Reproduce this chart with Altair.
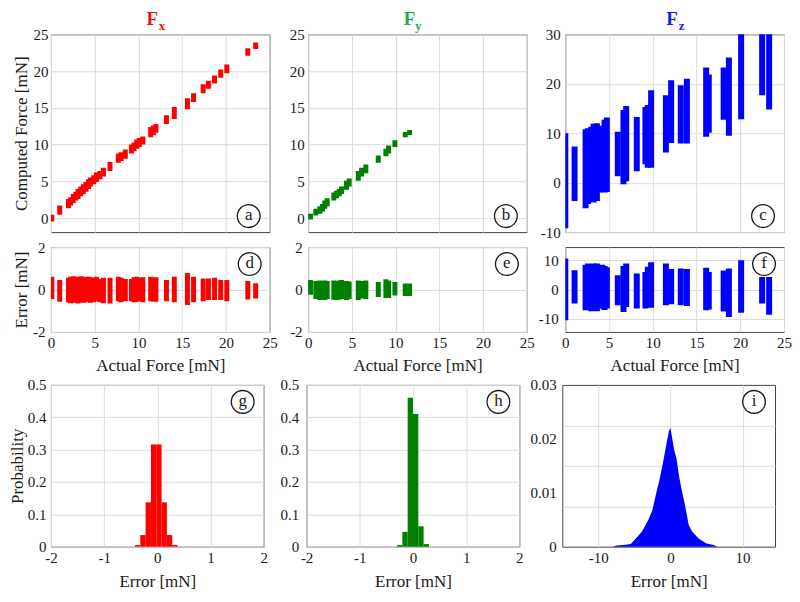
import altair as alt
import pandas as pd

FONT = "Liberation Serif, Times New Roman, Times, serif"
RED, GREEN, BLUE = "#ff0000", "#008000", "#0000ff"
T_RED, T_GREEN, T_BLUE = "#e8141c", "#1fa85a", "#1a1aee"
GRID = "#dcdcdc"
BOX = "#444444"
INK = "#1a1a1a"
MINUS = "replace(datum.label, '\u2212', '-')"

# ---------------- Fx clusters (actual force, computed range, error range)
fx_actual = [0.1, 1.0, 2.0, 2.25, 2.55, 2.85, 3.1, 3.4, 3.7, 4.0, 4.3, 4.5, 4.9, 5.2, 5.6, 6.0, 6.75,
             7.7, 8.0, 8.5, 9.2, 9.5, 9.8, 10.1, 10.5, 11.4, 11.7, 12.0, 13.2, 14.1, 15.6, 16.3, 17.4,
             18.0, 18.7, 19.4, 20.1, 22.5, 23.4]
fx_comp_lo = [-0.45, 0.45, 1.35, 1.70, 2.06, 2.38, 2.60, 2.96, 3.27, 3.59, 3.95, 4.30, 4.62, 4.93, 5.29,
              5.65, 6.41, 7.53, 7.76, 8.07, 8.79, 9.10, 9.42, 9.69, 10.0, 11.0, 11.3, 11.6, 12.8, 13.5,
              14.8, 15.8, 17.0, 17.6, 18.3, 19.1, 19.7, 22.1, 23.0]
fx_comp_hi = [0.45, 1.70, 2.60, 2.83, 3.27, 3.59, 3.95, 4.26, 4.62, 4.93, 5.29, 5.52, 5.83, 6.19, 6.41,
              6.86, 7.62, 8.79, 8.97, 9.33, 10.0, 10.3, 10.7, 10.9, 11.1, 12.4, 12.6, 12.8, 14.0, 15.1,
              16.3, 17.0, 18.2, 18.7, 19.4, 20.2, 20.9, 23.1, 23.9]
fx_err_hi = [0.6, 0.45, 0.55, 0.6, 0.62, 0.6, 0.58, 0.62, 0.6, 0.55, 0.6, 0.58, 0.55, 0.6, 0.5, 0.55,
             0.55, 0.6, 0.55, 0.5, 0.5, 0.58, 0.6, 0.55, 0.58, 0.6, 0.55, 0.58, 0.45, 0.6, 0.78, 0.6,
             0.52, 0.52, 0.55, 0.45, 0.45, 0.4, 0.3]
fx_err_lo = [-0.45, -0.58, -0.6, -0.65, -0.62, -0.6, -0.66, -0.6, -0.62, -0.6, -0.58, -0.62, -0.6,
             -0.55, -0.6, -0.65, -0.66, -0.55, -0.6, -0.55, -0.55, -0.6, -0.58, -0.55, -0.6, -0.55,
             -0.56, -0.58, -0.55, -0.6, -0.73, -0.6, -0.55, -0.5, -0.5, -0.5, -0.55, -0.47, -0.42]

# ---------------- Fy clusters
fy_actual = [0.27, 0.88, 1.34, 1.64, 1.91, 2.18, 2.94, 3.24, 3.55, 3.82, 4.39, 4.69, 5.73, 6.11, 6.60,
             8.02, 8.89, 9.20, 9.92, 11.1, 11.6]
fy_comp_lo = [-0.18, 0.36, 0.58, 0.90, 1.26, 1.61, 2.38, 2.69, 2.96, 3.27, 3.86, 4.30, 5.07, 5.65,
              6.10, 7.53, 8.43, 8.79, 9.69, 11.0, 11.3]
fy_comp_hi = [0.58, 1.26, 1.61, 1.93, 2.38, 2.69, 3.50, 3.72, 3.95, 4.30, 5.07, 5.38, 6.41, 6.86,
              7.31, 8.52, 9.42, 9.87, 10.6, 11.7, 12.0]
fy_err_hi = [0.45, 0.4, 0.42, 0.4, 0.42, 0.4, 0.42, 0.4, 0.42, 0.45, 0.4, 0.38, 0.42, 0.4, 0.42,
             0.35, 0.48, 0.42, 0.35, 0.28, 0.28]
fy_err_lo = [-0.25, -0.45, -0.5, -0.48, -0.5, -0.45, -0.48, -0.5, -0.48, -0.45, -0.5, -0.45, -0.5,
             -0.42, -0.45, -0.35, -0.4, -0.4, -0.28, -0.3, -0.3]

# ---------------- Fz clusters
fz_actual = [0.0, 1.06, 2.32, 2.59, 2.97, 3.23, 3.61, 3.92, 4.22, 4.49, 4.75, 6.0, 6.65, 6.96, 8.17,
             9.16, 9.43, 9.81, 11.5, 12.1, 13.2, 13.9, 16.1, 16.4, 18.1, 18.7, 20.1, 22.5, 23.3]
fz_comp_lo = [-9.2, -3.7, -5.2, -4.3, -3.3, -4.0, -3.7, -2.0, -1.3, -2.0, -1.9, 1.3, -0.3, 0.3, 2.3,
              3.7, 3.0, 3.0, 6.1, 8.0, 7.9, 7.9, 9.3, 10.1, 12.7, 9.5, 12.8, 17.7, 14.8]
fz_comp_hi = [10.0, 7.3, 10.8, 11.0, 11.3, 11.9, 12.0, 11.3, 11.5, 12.7, 13.2, 10.3, 14.7, 15.5, 13.3,
              15.3, 15.7, 18.7, 17.7, 20.7, 19.7, 21.0, 23.3, 21.9, 23.3, 25.3, 30.5, 30.5, 30.5]
fz_err_hi = [10.6, 6.6, 8.5, 8.9, 8.6, 8.9, 8.9, 8.2, 8.5, 8.0, 7.6, 4.9, 8.0, 8.9, 5.5, 6.0, 7.8,
             9.3, 8.9, 7.0, 7.2, 7.0, 7.4, 6.0, 6.5, 7.2, 10.0, 4.3, 4.3]
fz_err_lo = [-10.5, -4.8, -7.1, -6.5, -7.4, -6.8, -7.4, -6.6, -6.2, -7.0, -6.5, -5.4, -7.7, -6.0,
             -6.5, -6.5, -6.0, -6.2, -5.4, -5.0, -5.4, -5.6, -7.1, -6.8, -7.5, -9.4, -7.9, -4.8, -8.6]

# ---------------- error histograms
fx_bin_lo = [-0.42, -0.32, -0.22, -0.12, -0.02, 0.08, 0.18, 0.28]
fx_bin_hi = [-0.32, -0.22, -0.12, -0.02, 0.08, 0.18, 0.28, 0.38]
fx_prob = [0.005, 0.036, 0.137, 0.316, 0.316, 0.137, 0.036, 0.005]

fy_bin_lo = [-0.3, -0.2, -0.1, 0.0, 0.1, 0.2]
fy_bin_hi = [-0.2, -0.1, 0.0, 0.1, 0.2, 0.3]
fy_prob = [0.005, 0.046, 0.46, 0.41, 0.063, 0.008]

fz_err_x = [-8.0, -7.5, -6.5, -5.5, -4.8, -4.0, -3.45, -3.0, -2.5, -1.93, -1.5, -0.92, -0.5, -0.2,
            0.0, 0.2, 0.5, 0.83, 1.2, 1.61, 2.0, 2.53, 3.0, 3.9, 5.0, 6.0, 6.5]
fz_err_p = [0.0, 0.0002, 0.0003, 0.0005, 0.0015, 0.0027, 0.004, 0.0052, 0.0068, 0.0102, 0.0125,
            0.0164, 0.0195, 0.0215, 0.022, 0.0205, 0.018, 0.0164, 0.013, 0.0102, 0.0078, 0.004,
            0.0028, 0.0015, 0.0006, 0.0003, 0.0]

force_ticks = [0, 5, 10, 15, 20, 25]
W1, H1, H2 = 219, 198, 85
W3, H3 = 213, 162


def xaxis(values, show, title=None, lab_pad=4, title_pad=7):
    kw = dict(values=values, grid=True, gridColor=GRID, ticks=False, tickSize=0, domain=False,
              labels=show, labelFlush=False, labelOverlap=False, labelExpr=MINUS)
    if show:
        kw.update(labelPadding=lab_pad, title=title, titlePadding=title_pad)
    else:
        kw.update(title=None, minExtent=0, maxExtent=0)
    return alt.Axis(**kw)


def yaxis(values, title, title_x, pad, fmt=None, grid=True):
    kw = dict(values=values, grid=grid, gridColor=GRID, ticks=False, tickSize=0, domain=False,
              labelPadding=pad, labelOverlap=False, labelExpr=MINUS)
    if title:
        kw.update(title=title, titleX=title_x, titleBaseline="middle", titleAngle=270)
    else:
        kw["title"] = None
    if fmt:
        kw["format"] = fmt
    return alt.Axis(**kw)


def letter(ch, cx, cy):
    df = pd.DataFrame({"t": [ch]})
    ring = alt.Chart(df).mark_point(shape="circle", size=520, filled=False, color=INK,
                                    strokeWidth=1.3, opacity=1).encode(x=alt.value(cx), y=alt.value(cy))
    txt = alt.Chart(df).mark_text(font=FONT, fontSize=17, color=INK, align="center",
                                  baseline="middle").encode(x=alt.value(cx), y=alt.value(cy - 1), text="t:N")
    return [ring, txt]


def head(sub, color, f_dx, s_dx, w):
    f = alt.Chart(pd.DataFrame({"t": ["F"]})).mark_text(
        font=FONT, fontSize=19, fontWeight="bold", color=color, align="center", baseline="alphabetic"
    ).encode(x=alt.value(w / 2 + f_dx), y=alt.value(-9.6), text="t:N")
    s = alt.Chart(pd.DataFrame({"t": [sub]})).mark_text(
        font=FONT, fontSize=13, fontWeight="bold", color=color, align="left", baseline="alphabetic"
    ).encode(x=alt.value(w / 2 + s_dx), y=alt.value(-4.5), text="t:N")
    return [f, s]


def cluster(actual, lo, hi, color, h, ydom, yvals, show_x, ytitle, pad, sw, annots, xtitle=None):
    df = pd.DataFrame({"a": actual, "lo": lo, "hi": hi})
    base = alt.Chart(df).mark_rule(color=color, strokeWidth=sw, clip=True).encode(
        x=alt.X("a:Q", scale=alt.Scale(domain=[0, 25], nice=False, zero=False),
                axis=xaxis(force_ticks, show_x, xtitle)),
        y=alt.Y("lo:Q", scale=alt.Scale(domain=ydom, nice=False, zero=False),
                axis=yaxis(yvals, ytitle, -29, pad)),
        y2="hi:Q",
    )
    return alt.layer(base, *annots).properties(width=W1, height=h)


def hist(lo, hi, p, color, pad, ytitle, annots):
    df = pd.DataFrame({"lo": lo, "hi": hi, "p": p})
    base = alt.Chart(df).mark_rect(color=color).encode(
        x=alt.X("lo:Q", scale=alt.Scale(domain=[-2, 2], nice=False, zero=False),
                axis=xaxis([-2, -1, 0, 1, 2], True, "Error [mN]", 4, 8)),
        x2="hi:Q",
        y=alt.Y("p:Q", scale=alt.Scale(domain=[0, 0.5], nice=False),
                axis=yaxis([0, 0.1, 0.2, 0.3, 0.4, 0.5], ytitle, -33, pad, fmt=".1~f")),
        y2=alt.datum(0),
    )
    return alt.layer(base, *annots).properties(width=W3, height=H3)


# ---- row 1
a = cluster(fx_actual, fx_comp_lo, fx_comp_hi, RED, H1, [-1.9, 25], force_ticks, False,
            "Computed Force [mN]", 3, 5, letter("a", W1 - 21, H1 - 16) + head("x", T_RED, -8, -1.5, W1))
b = cluster(fy_actual, fy_comp_lo, fy_comp_hi, GREEN, H1, [-1.9, 25], force_ticks, False,
            None, 4, 5, letter("b", W1 - 21, H1 - 16) + head("y", T_GREEN, -8, -2.5, W1))
c = cluster(fz_actual, fz_comp_lo, fz_comp_hi, BLUE, H1, [-10, 30], [-10, 0, 10, 20, 30], False,
            None, 5, 6, letter("c", W1 - 21, H1 - 16) + head("z", T_BLUE, -2.5, 4, W1))

# ---- row 2
d = cluster(fx_actual, fx_err_lo, fx_err_hi, RED, H2, [-2, 2], [-2, 0, 2], True,
            "Error [mN]", 6, 5, letter("d", W1 - 20, 17), "Actual Force [mN]")
e = cluster(fy_actual, fy_err_lo, fy_err_hi, GREEN, H2, [-2, 2], [-2, 0, 2], True,
            None, 6, 5, letter("e", W1 - 20, 17), "Actual Force [mN]")
f = cluster(fz_actual, fz_err_lo, fz_err_hi, BLUE, H2, [-14.5, 14.5], [-10, 0, 10], True,
            None, 7, 6, letter("f", W1 - 20, 17), "Actual Force [mN]")

# ---- row 3
g = hist(fx_bin_lo, fx_bin_hi, fx_prob, RED, 5, "Probability", letter("g", W3 - 21, 17))
h = hist(fy_bin_lo, fy_bin_hi, fy_prob, GREEN, 8, None, letter("h", W3 - 21, 17))

dz = pd.DataFrame({"x": fz_err_x, "p": fz_err_p})
xz = alt.X("x:Q", scale=alt.Scale(domain=[-15, 14.5], nice=False, zero=False),
           axis=xaxis([-10, 0, 10], True, "Error [mN]", 4, 8))
yscale = alt.Scale(domain=[0, 0.03], nice=False)
iz_main = alt.Chart(dz).mark_area(color=BLUE, interpolate="linear").encode(
    x=xz, y=alt.Y("p:Q", scale=yscale, axis=yaxis([0, 0.01, 0.02, 0.03], None, 0, 6, fmt=".2~f", grid=False)))
iz_grid = alt.Chart(dz).mark_area(opacity=0).encode(
    x=xz, y=alt.Y("p:Q", scale=yscale,
                  axis=alt.Axis(orient="right", values=[0.0075, 0.015, 0.0225], grid=True, gridColor=GRID,
                                labels=False, ticks=False, domain=False, title=None, minExtent=0, maxExtent=0)))
i = alt.layer(iz_grid, iz_main, *letter("i", W3 - 21, 17)).resolve_axis(y="independent").properties(width=W3, height=H3)

row1 = alt.hconcat(a, b, c, spacing=38.5, bounds="flush")
row2 = alt.hconcat(d, e, f, spacing=38.5, bounds="flush")
row3 = alt.hconcat(g, h, i, spacing=43, bounds="flush")
top = alt.vconcat(row1, row2, spacing=-2)
chart = alt.vconcat(top, row3, spacing=2).properties(
    padding={"left": 0, "top": 0, "right": 0, "bottom": 0}
).configure(font=FONT).configure_view(stroke=BOX, strokeWidth=1).configure_axis(
    labelFont=FONT, titleFont=FONT, labelFontSize=15, titleFontSize=17, labelColor=INK,
    titleColor=INK, titleFontWeight="normal"
)

chart.save("out.html", embed_options={"renderer": "svg", "actions": False})
